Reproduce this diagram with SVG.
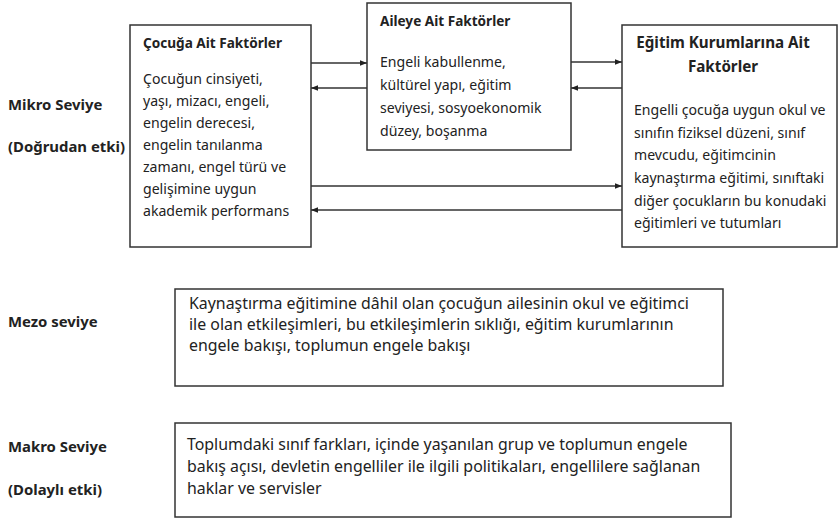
<svg xmlns="http://www.w3.org/2000/svg" width="838" height="518" viewBox="0 0 838 518">
<style>
.box{fill:#fff;stroke:#333;stroke-width:1.5}
.t{font-family:"Noto Sans","Open Sans",sans-serif;font-size:14.1px;fill:#222}
.tl{font-family:"Noto Sans","Open Sans",sans-serif;font-size:15.9px;fill:#222}
.b{font-weight:bold;font-size:13.6px}
.lbl{font-family:"Noto Sans","Open Sans",sans-serif;font-size:14.9px;font-weight:bold;fill:#222}
.c{stroke:#333;stroke-width:1.5;fill:none;marker-end:url(#ah)}
</style>
<defs>
<marker id="ah" viewBox="0 0 10 10" refX="10" refY="5" markerWidth="7" markerHeight="7" markerUnits="userSpaceOnUse" orient="auto">
<path d="M0,1 L10,5 L0,9 z" fill="#222"/>
</marker>
</defs>
<rect width="838" height="518" fill="#fff"/>
<g id="labels">
<text class="lbl" x="8" y="110">Mikro Seviye</text>
<text class="lbl" x="8" y="152">(Doğrudan etki)</text>
<text class="lbl" x="8" y="327">Mezo seviye</text>
<text class="lbl" x="8" y="452">Makro Seviye</text>
<text class="lbl" x="8" y="495">(Dolaylı etki)</text>
</g>
<g id="connectors">
<line class="c" x1="311" y1="63" x2="367" y2="63"/>
<line class="c" x1="367" y1="88" x2="311" y2="88"/>
<line class="c" x1="571" y1="62" x2="622" y2="62"/>
<line class="c" x1="622" y1="88" x2="571" y2="88"/>
<line class="c" x1="311" y1="186" x2="622" y2="186"/>
<line class="c" x1="622" y1="210" x2="311" y2="210"/>
</g>
<g id="cocuga">
<rect class="box" x="130" y="25" width="181" height="222"/>
<text class="t b" x="143" y="48">Çocuğa Ait Faktörler</text>
<text class="t" x="143" y="84">Çocuğun cinsiyeti,</text>
<text class="t" x="143" y="106">yaşı, mizacı, engeli,</text>
<text class="t" x="143" y="128">engelin derecesi,</text>
<text class="t" x="143" y="150">engelin tanılanma</text>
<text class="t" x="143" y="172">zamanı, engel türü ve</text>
<text class="t" x="143" y="194">gelişimine uygun</text>
<text class="t" x="143" y="216">akademik performans</text>
</g>
<g id="aileye">
<rect class="box" x="367" y="3" width="204" height="147"/>
<text class="t b" x="380" y="26">Aileye Ait Faktörler</text>
<text class="t" x="380" y="67">Engeli kabullenme,</text>
<text class="t" x="380" y="90">kültürel yapı, eğitim</text>
<text class="t" x="380" y="113">seviyesi, sosyoekonomik</text>
<text class="t" x="380" y="136">düzey, boşanma</text>
</g>
<g id="egitim">
<rect class="box" x="622" y="25" width="215" height="222"/>
<text class="t b" x="723" y="48" text-anchor="middle" style="font-size:15.2px">Eğitim Kurumlarına Ait</text>
<text class="t b" x="723" y="72" text-anchor="middle" style="font-size:15.2px">Faktörler</text>
<text class="t" x="634" y="115">Engelli çocuğa uygun okul ve</text>
<text class="t" x="634" y="138">sınıfın fiziksel düzeni, sınıf</text>
<text class="t" x="634" y="160">mevcudu, eğitimcinin</text>
<text class="t" x="634" y="183">kaynaştırma eğitimi, sınıftaki</text>
<text class="t" x="634" y="206">diğer çocukların bu konudaki</text>
<text class="t" x="634" y="228">eğitimleri ve tutumları</text>
</g>
<g id="mezo">
<rect class="box" x="175" y="289" width="548" height="97"/>
<text class="tl" x="189" y="309">Kaynaştırma eğitimine dâhil olan çocuğun ailesinin okul ve eğitimci</text>
<text class="tl" x="189" y="330">ile olan etkileşimleri, bu etkileşimlerin sıklığı, eğitim kurumlarının</text>
<text class="tl" x="189" y="351">engele bakışı, toplumun  engele bakışı</text>
</g>
<g id="makro">
<rect class="box" x="175" y="423" width="556" height="94"/>
<text class="tl" x="187" y="450">Toplumdaki sınıf farkları, içinde yaşanılan grup ve toplumun engele</text>
<text class="tl" x="187" y="472">bakış açısı, devletin engelliler ile ilgili politikaları, engellilere sağlanan</text>
<text class="tl" x="187" y="494">haklar ve servisler</text>
</g>
</svg>
